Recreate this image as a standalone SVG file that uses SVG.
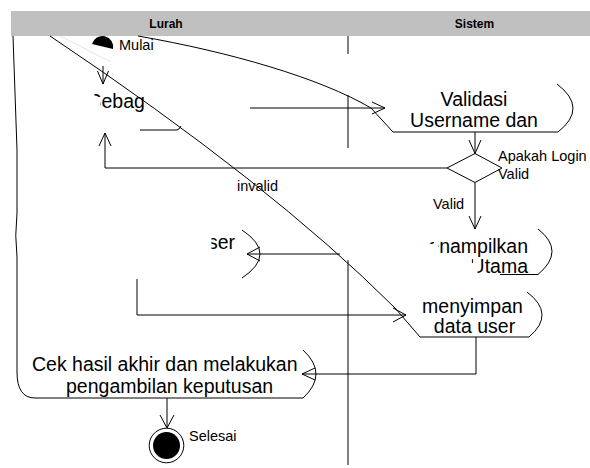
<svg xmlns="http://www.w3.org/2000/svg" width="590" height="468" viewBox="0 0 590 468">
  <style>
    .ln{fill:none;stroke:#000;stroke-width:1}
    .big{font-family:"Liberation Sans",Arial,sans-serif;font-size:19.5px;fill:#000}
    .mid{text-anchor:middle}
    .lbl{font-family:"Liberation Sans",Arial,sans-serif;font-size:14.5px;fill:#000}
    .hdr{font-family:"Liberation Sans",Arial,sans-serif;font-size:12px;font-weight:bold;fill:#000;text-anchor:middle}
  </style>
  <defs>
    <clipPath id="cpSebag"><rect x="94.5" y="86" width="6" height="11"/><rect x="100.5" y="80" width="60" height="40"/></clipPath>
    <clipPath id="cpSer"><rect x="211.5" y="225" width="40" height="35"/></clipPath>
    <clipPath id="cpMenampil"><rect x="428" y="239" width="6" height="5"/><rect x="438" y="230" width="100" height="30"/></clipPath>
    <clipPath id="cpUtama"><rect x="470" y="258" width="3" height="5"/><rect x="477.5" y="255" width="60" height="25"/></clipPath>
  </defs>
  <rect x="0" y="0" width="590" height="468" fill="#fff"/>

  <!-- swimlane header and lane divider -->
  <g id="swimlanes">
    <rect x="11" y="11" width="579" height="25" fill="#c0c0c0"/>
    <text class="hdr" x="166" y="28.3">Lurah</text>
    <text class="hdr" x="474.5" y="28.3">Sistem</text>
    <path class="ln" d="M348,36V54M348,95V148M348,260V465"/>
  </g>

  <!-- nodes -->
  <g id="mulai">
    <path d="M60,36 L111,62" fill="none" stroke="#e4e4e4" stroke-width="1"/>
    <path d="M92,44 A10.8,10.8 0 0 1 113,49 Z" fill="#000"/>
    <text class="lbl" x="119" y="50">Mulai</text>
  </g>

  <g id="sebagai">
    <path class="ln" d="M140,130 L177,130 Q179,130 181,126"/>
    <text class="big" x="88.5" y="108" clip-path="url(#cpSebag)">Sebag</text>
  </g>

  <g id="validasi">
    <path class="ln" d="M138,36 C230,52 320,78 371,108 L393,132 L558,132 Q588.5,108 557,84"/>
    <text class="big mid" x="474" y="106">Validasi</text>
    <text class="big mid" x="474" y="127">Username dan</text>
  </g>

  <g id="cek-login">
    <polygon points="447,168 475,153.5 502,168 475,182.5" fill="#fff" stroke="#000" stroke-width="1"/>
    <text class="lbl" x="498" y="161">Apakah Login</text>
    <text class="lbl" x="498" y="179">Valid</text>
  </g>

  <g id="menampilkan">
    <path class="ln" d="M500,274.5 L538,274.5 Q566,251 538,229"/>
    <text class="big" x="428.3" y="253" clip-path="url(#cpMenampil)">enampilkan</text>
    <text class="big" x="470.6" y="273" clip-path="url(#cpUtama)">Utama</text>
  </g>

  <g id="user">
    <path class="ln" d="M242,230 Q278,254 242,278"/>
    <text class="big" x="207.9" y="249" clip-path="url(#cpSer)">ser</text>
  </g>

  <g id="menyimpan">
    <path class="ln" d="M50,36 Q271,184 395,308 L420,337 L529,337 Q556,314 527,292"/>
    <text class="big mid" x="472.5" y="313">menyimpan</text>
    <text class="big mid" x="474.5" y="333">data user</text>
  </g>

  <g id="keputusan">
    <path class="ln" d="M13,36 L17,150 L17,213 Q14.5,236 17,257 L17,372 Q17,398 35,398 L303,398 Q329,374 303,350"/>
    <text class="big" x="32" y="371">Cek hasil akhir dan melakukan</text>
    <text class="big" x="66" y="393">pengambilan keputusan</text>
  </g>

  <g id="selesai">
    <circle cx="166.5" cy="445.5" r="17.3" fill="#fff" stroke="#000" stroke-width="1"/>
    <circle cx="166.5" cy="445.5" r="13.5" fill="#000"/>
    <text class="lbl" x="189" y="441">Selesai</text>
  </g>

  <!-- control flows -->
  <g id="connectors" class="ln">
    <path d="M103,66V84M97.5,71L103,84L108.5,71"/>
    <path d="M250,108H385M372,102L385,108L372,114"/>
    <path d="M475,132V153.5M469,140L475,153.5L481,140"/>
    <path d="M475,182.5V229M469,216L475,229L481,216"/>
    <path d="M447,168H105V133M99,146L105,133L111,146"/>
    <path d="M340,254H247M260,247L247,254L260,261"/>
    <path d="M137,279V315H406M393,308L406,315L393,322"/>
    <path d="M476,337V374H302M315,368L302,374L315,380"/>
    <path d="M167,398V428M160,415L167,428L174,415"/>
  </g>
  <g id="connector-labels">
    <text class="lbl" x="237" y="191">invalid</text>
    <text class="lbl" x="433" y="209">Valid</text>
  </g>
</svg>
